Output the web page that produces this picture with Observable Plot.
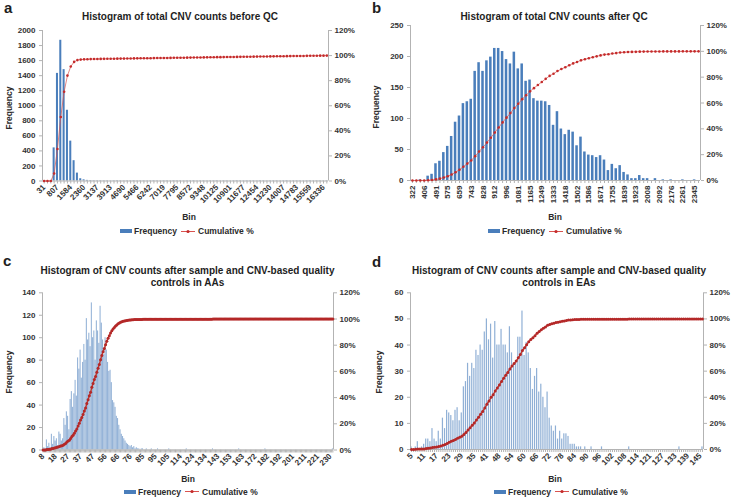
<!DOCTYPE html>
<html><head><meta charset="utf-8">
<script src="https://cdn.jsdelivr.net/npm/d3@7"></script>
<script src="https://cdn.jsdelivr.net/npm/@observablehq/plot@0.6"></script>
<style>
body{margin:0;background:#fff;}
#fig{position:relative;width:732px;height:499px;overflow:hidden;font-family:"Liberation Sans",Arial,Helvetica,sans-serif;color:#1e1e1e;background:#fff;}
#fig svg{position:absolute;}
.t{position:absolute;white-space:nowrap;}
.letter{font-weight:bold;font-size:15px;line-height:15px;}
.title{font-weight:bold;font-size:10px;text-align:center;transform:translateX(-50%);}
.ylab{font-weight:bold;font-size:8.5px;line-height:10px;transform:translate(-50%,-50%) rotate(-90deg);color:#2a2a2a;}
.bin{font-weight:bold;font-size:8.5px;line-height:10px;transform:translate(-50%,-50%);color:#2a2a2a;}
.legend{font-weight:bold;font-size:8.5px;line-height:10px;display:flex;align-items:center;transform:translateY(-50%);color:#2a2a2a;}
</style></head>
<body><div id="fig"></div>
<script>
// ---------- Data ----------
const titleA = "Histogram of total CNV counts before QC";
const titleB = "Histogram of total CNV counts after QC";
const titleC = ["Histogram of CNV counts after sample and CNV-based quality", "controls in AAs"];
const titleD = ["Histogram of CNV counts after sample and CNV-based quality", "controls in EAs"];

const labelsA = ["31","807","1584","2360","3137","3913","4690","5466","6242","7019","7795","8572","9348","10125","10901","11677","12454","13230","14007","14783","15559","16336"];
const freqA = [0,0,0,440,1430,1870,1480,940,530,270,
  105,30,15,8,6,4,3,4,3,3,
  2,3,4,3,2,3,3,4,2,3,
  3,2,3,4,3,2,3,3,2,4,
  3,3,2,3,3,4,2,3,3,2,
  3,3,4,2,3,3,2,3,4,3,
  2,3,3,3,2,4,3,2,3,3,
  3,2,3,4,2,3,3,3,2,3,
  4,2,3,3,2,3];
const yTicksA = [0,200,400,600,800,1000,1200,1400,1600,1800,2000];

const labelsB = ["322","406","491","575","659","743","828","912","996","1081","1165","1249","1333","1418","1502","1586","1671","1755","1839","1923","2008","2092","2176","2261","2345"];
const freqB = [0,0,1,0,7,10,27,31,45,55,
  71,94,104,124,127,131,176,190,176,193,
  199,213,213,208,195,188,207,180,188,160,
  162,132,128,128,127,121,89,111,83,74,
  81,78,56,70,46,41,40,37,40,33,
  16,26,19,24,13,9,3,3,8,3,
  3,0,3,0,1,0,1,0,0,1,
  0,0,1,0];
const yTicksB = [0,50,100,150,200,250];

const labelsC = ["8","18","27","37","47","56","66","76","85","95","105","114","124","134","143","153","163","172","182","192","201","211","221","230"];
const freqC = [0,2,1,9,3,6,2,14,5,12,
  8,10,4,16,14,8,10,28,22,34,
  30,18,45,52,38,50,62,48,82,72,
  89,64,78,94,80,117,98,104,92,131,
  100,106,80,115,106,95,128,113,98,85,
  100,89,78,70,71,60,44,42,38,30,
  28,22,18,14,12,10,8,6,5,4,
  3,4,2,3,1,2,1,1,0,1,
  1,0,0,1,0,0,0,1,0,0,
  0,0,1,0,0,0,0,0,0,0,
  0,1,0,0,0,0,0,0,0,0,
  0,0,0,0,0,1,0,0,0,0,
  0,0,0,0,0,0,0,0,0,0,
  0,0,0,0,0,0,1,0,0,0,
  0,0,0,0,0,0,0,0,0,0,
  0,0,0,0,0,0,0,1,0,0,
  0,0,0,0,0,0,0,0,0,0,
  0,0,0,0,0,0,0,0,1,0,
  0,0,0,0,0,0,0,0,0,0,
  0,0,0,0,0,0,0,0,0,0,
  0,0,0,0,0,0,0,0,0,0,
  0,0,0,0,0,0,0,0,0,0,
  0,0,0,0,0,0,0,0,0,0,
  0,0,1];
const yTicksC = [0,20,40,60,80,100,120,140];

const labelsD = ["5","11","17","23","29","35","41","48","54","60","66","72","78","84","90","96","102","108","114","121","127","133","139","145"];
const freqD = [1,0,1,3,0,1,2,4,4,3,
  8,4,3,7,4,12,8,15,14,13,
  11,15,16,11,14,24,26,33,28,33,
  31,38,36,40,38,45,50,42,48,35,
  49,40,40,46,40,40,37,47,37,33,
  33,43,43,53,36,41,37,31,23,28,
  31,22,25,20,16,22,12,9,7,9,
  4,7,4,6,6,5,2,2,2,1,
  1,1,0,1,0,0,1,0,0,0,
  0,1,0,0,0,0,0,0,0,0,
  0,0,0,0,1,0,0,0,0,0,
  0,0,0,0,0,0,0,0,0,0,
  0,0,0,0,0,0,0,0,1,0,
  0,0,0,0,0,0,0,0,0,1];
const yTicksD = [0,10,20,30,40,50,60];

const pctTicks = [0,20,40,60,80,100,120];
const legendLabels = ["Frequency", "Cumulative %"];

// ---------- Drawing ----------
const FONT = '"Liberation Sans", Arial, Helvetica, sans-serif';
const AXIS = "#b3b3b3";
const TXT = "#333333";

function panel(o) {
  const n = o.freq.length;
  const total = d3.sum(o.freq);
  const cum = d3.cumsum(o.freq);
  const data = o.freq.map((f, i) => ({i, f, c: cum[i] / total}));
  const k = o.yMax / 1.2; // 100% maps to yMax/1.2 (right axis 0..120%)
  const xc = d => d.i + 0.5;
  return Plot.plot({
    width: o.width, height: o.height,
    marginLeft: o.ml, marginRight: o.mr, marginTop: o.mt, marginBottom: o.mb,
    style: {fontFamily: FONT, fontSize: "8px", fontWeight: "bold", color: TXT, background: "none", overflow: "visible"},
    x: {domain: [0, n], axis: null},
    y: {domain: [0, o.yMax], axis: null},
    marks: [
      Plot.rectY(data, {x1: "i", x2: d => d.i + 1, y: "f", fill: o.barColor, fillOpacity: o.barOpacity, insetLeft: o.inset, insetRight: o.inset}),
      Plot.ruleX([0, n], {stroke: AXIS}),
      Plot.ruleY([0], {stroke: AXIS}),
      Plot.axisX(data.map(xc), {
        anchor: "bottom", tickSize: 3, tickPadding: 2, tickRotate: o.rotate, stroke: AXIS, fill: TXT, label: null,
        tickFormat: v => { const i = Math.round(v - 0.5); return i % o.every === 0 && o.labels[i / o.every] !== undefined ? o.labels[i / o.every] : ""; }
      }),
      Plot.axisY(o.yTicks, {anchor: "left", tickSize: 3, tickPadding: 4, stroke: AXIS, fill: TXT, label: null, tickFormat: v => String(v)}),
      Plot.axisY(pctTicks.map(p => p * o.yMax / 120), {anchor: "right", tickSize: 3, tickPadding: 3, stroke: AXIS, fill: TXT, label: null,
        tickFormat: v => Math.round(v * 120 / o.yMax) + "%"}),
      Plot.line(data, {x: xc, y: d => d.c * k, stroke: o.lineColor, strokeWidth: o.lw}),
      Plot.dot(data, {x: xc, y: d => d.c * k, r: o.r, fill: o.dotColor, stroke: "none"})
    ]
  });
}

const fig = document.getElementById("fig");
function put(el, left, top) { el.style.left = left + "px"; el.style.top = top + "px"; fig.appendChild(el); return el; }
function text(html, cls, left, top, extra) {
  const d = document.createElement("div");
  d.className = "t " + cls; d.innerHTML = html;
  if (extra) Object.assign(d.style, extra);
  return put(d, left, top);
}
function legend(left, cy) {
  const d = document.createElement("div");
  d.className = "t legend";
  d.innerHTML =
    '<span style="display:inline-block;width:12px;height:4px;background:#4a7ebb;margin-right:2px"></span>' +
    '<span>' + legendLabels[0] + '</span>' +
    '<svg width="14" height="7" style="position:static;margin:0 3px 0 4px"><line x1="0" y1="3.5" x2="14" y2="3.5" stroke="#d9534f" stroke-width="1"/><circle cx="7" cy="3.5" r="1.6" fill="#c42b2b"/></svg>' +
    '<span>' + legendLabels[1] + '</span>';
  return put(d, left, cy);
}

const common = {barColor: "#4a7ebb", lineColor: "#d9534f", dotColor: "#c42b2b"};

put(panel({...common, freq: freqA, labels: labelsA, every: 4, yMax: 2000, yTicks: yTicksA, rotate: -45,
  width: 365, height: 200, ml: 42, mr: 37, mt: 5, mb: 44.5, barOpacity: 1, inset: 0.65, lw: 0.7, r: 1.3}), 0, 25);
put(panel({...common, freq: freqB, labels: labelsB, every: 3, yMax: 250, yTicks: yTicksB, rotate: -90,
  width: 366, height: 205, ml: 44, mr: 32, mt: 5, mb: 45, barOpacity: 1, inset: 0.7, lw: 0.7, r: 1.3}), 366, 20);
put(panel({...common, freq: freqC, labels: labelsC, every: 10, yMax: 140, yTicks: yTicksC, rotate: -45,
  width: 366, height: 200, ml: 42, mr: 33, mt: 6.3, mb: 36.5, barOpacity: 0.62, inset: 0.12, lw: 1.4, r: 1.5, dotColor: "#b42828", lineColor: "#c0392b"}), 0, 286);
put(panel({...common, freq: freqD, labels: labelsD, every: 6, yMax: 60, yTicks: yTicksD, rotate: -45,
  width: 366, height: 200, ml: 44, mr: 29, mt: 6.3, mb: 37, barOpacity: 0.62, inset: 0.45, lw: 1.4, r: 1.5, dotColor: "#b42828", lineColor: "#c0392b"}), 366, 286);

// panel letters
text("a", "letter", 4, 0);
text("b", "letter", 372, 0);
text("c", "letter", 3, 253);
text("d", "letter", 372, 254);
// titles
text(titleA, "title", 180, 10.5, {lineHeight: "12px"});
text(titleB, "title", 554, 10.5, {lineHeight: "12px"});
text(titleC.join("<br>"), "title", 187.5, 265.3, {lineHeight: "11.5px"});
text(titleD.join("<br>"), "title", 559, 265.3, {lineHeight: "11.5px"});
// y titles
text("Frequency", "ylab", 8.5, 108);
text("Frequency", "ylab", 375.5, 107);
text("Frequency", "ylab", 9, 372);
text("Frequency", "ylab", 379, 372);
// x titles
text("Bin", "bin", 189, 216.5);
text("Bin", "bin", 555, 217);
text("Bin", "bin", 188, 478.5);
text("Bin", "bin", 555, 478.5);
// legends
legend(120, 231);
legend(488, 231);
legend(124, 491.5);
legend(494, 491.5);
</script>
</body></html>
